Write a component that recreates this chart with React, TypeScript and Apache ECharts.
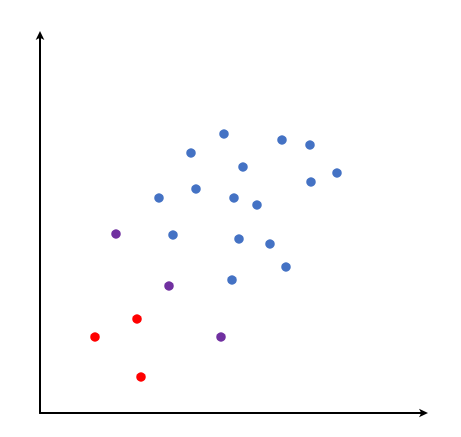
import React, { useEffect, useRef } from "react";
import * as echarts from "echarts";

const blueX = [184, 151, 242, 270, 203, 297, 271, 156, 119, 194, 217, 133, 199, 230, 246, 192];
const blueY = [279, 260, 273, 268, 246, 240, 231, 224, 215, 215, 208, 178, 174, 169, 146, 133];
const purpleX = [76, 129, 181];
const purpleY = [179, 127, 76];
const redX = [97, 55, 101];
const redY = [94, 76, 36];

const zip = (xs: number[], ys: number[]) => xs.map((x, i) => [x, ys[i]]);

export default function App() {
  const ref = useRef<HTMLDivElement>(null);
  useEffect(() => {
    if (!ref.current) return;
    const chart = echarts.init(ref.current, undefined, { renderer: "svg" });
    const axisCommon = {
      type: "value" as const,
      min: 0,
      splitLine: { show: false },
      axisTick: { show: false },
      axisLabel: { show: false },
      axisLine: {
        show: true,
        symbol: ["none", "arrow"],
        symbolSize: [6.5, 9],
        symbolOffset: [0, 3],
        lineStyle: { color: "#000", width: 2 },
      },
    };
    const dot = (color: string) => ({ color, opacity: 1 });
    chart.setOption({
      animation: false,
      grid: { left: 40, right: 36, top: 34, bottom: 24 },
      xAxis: { ...axisCommon, max: 385 },
      yAxis: { ...axisCommon, max: 379 },
      series: [
        { type: "scatter", symbolSize: 9.5, itemStyle: dot("#4472C4"), data: zip(blueX, blueY) },
        { type: "scatter", symbolSize: 9.5, itemStyle: dot("#7030A0"), data: zip(purpleX, purpleY) },
        { type: "scatter", symbolSize: 9.5, itemStyle: dot("#FF0000"), data: zip(redX, redY) },
      ],
    });
    return () => chart.dispose();
  }, []);
  return (
    <div
      ref={ref}
      style={{ position: "absolute", left: 0, top: 0, width: 461, height: 437, background: "#fff" }}
    />
  );
}
